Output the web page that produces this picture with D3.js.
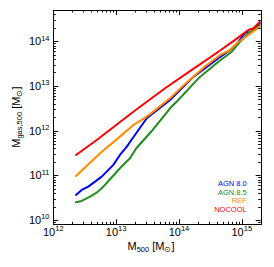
<!DOCTYPE html>
<html><head><meta charset="utf-8">
<script src="https://cdn.jsdelivr.net/npm/d3@7"></script>
<style>
html,body{margin:0;padding:0;background:#fff;}
svg{display:block;font-family:"Liberation Sans",Arial,sans-serif;}
</style></head>
<body>
<svg id="c" width="274" height="267"></svg>
<script>
// ---- data (M500 in Msun, Mgas,500 in Msun) ----
const seriesNames = ["AGN 8.0", "AGN 8.5", "REF", "NOCOOL"];
const seriesColors = ["#0000ff", "#228b22", "#ff8c00", "#ff0000"];

const agn80_m500 = [2.30e12,2.83e12,3.61e12,4.61e12,5.90e12,7.08e12,9.02e12,1.15e13,1.48e13,1.66e13,3.07e13,7.21e13,1.60e14,4.24e14,7.82e14,1.06e15,1.20e15,1.36e15,1.95e15];
const agn80_mgas = [3.63e10,4.70e10,5.57e10,7.21e10,9.33e10,1.21e11,1.71e11,2.85e11,4.38e11,5.57e11,1.89e12,4.85e12,1.48e13,4.15e13,7.55e13,1.38e14,1.64e14,1.51e14,2.52e14];

const agn85_m500 = [2.30e12,2.83e12,3.84e12,4.91e12,6.25e12,8.00e12,1.15e13,1.66e13,2.08e13,3.69e13,7.21e13,9.77e13,2.04e14,4.24e14,6.93e14,9.40e14,1.27e15,1.95e15];
const agn85_mgas = [2.49e10,2.67e10,3.33e10,4.09e10,5.57e10,8.15e10,1.44e11,2.40e11,3.98e11,9.79e11,3.16e12,4.85e12,1.48e13,3.48e13,5.83e13,9.77e13,1.51e14,2.31e14];

const ref_m500 = [2.30e12,5.55e12,1.15e13,1.88e13,2.56e13,3.48e13,7.21e13,1.25e14,2.51e14,4.51e14,6.52e14,8.32e14,1.27e15,1.95e15];
const ref_mgas = [9.66e10,3.11e11,7.33e11,1.34e12,1.74e12,2.34e12,5.30e12,1.11e13,2.63e13,4.92e13,6.37e13,8.99e13,1.38e14,2.12e14];

const nocool_m500 = [2.30e12,4.91e12,1.88e13,6.01e13,1.60e14,4.24e14,7.82e14,1.27e15,1.53e15,1.95e15];
const nocool_mgas = [2.85e11,6.18e11,2.65e12,8.85e12,2.28e13,5.83e13,1.07e14,1.79e14,1.95e14,2.74e14];

const xMajorTicks = [1e12, 1e13, 1e14, 1e15];
const xTickExps = ["12", "13", "14", "15"];
const yMajorTicks = [1e10, 1e11, 1e12, 1e13, 1e14];
const yTickExps = ["10", "11", "12", "13", "14"];

// ---- chart ----
const L = 53.3, R = 260.7, T = 10, B = 224.3;
const svg = d3.select("#c");
const x = d3.scaleLog().domain([1e12, 2e15]).range([L, R]);
const y = d3.scaleLog().domain([8e9, 5e14]).range([B, T]);

const series = [
  {x: agn80_m500, y: agn80_mgas},
  {x: agn85_m500, y: agn85_mgas},
  {x: ref_m500, y: ref_mgas},
  {x: nocool_m500, y: nocool_mgas}
];

const line = d3.line().x(d => x(d[0])).y(d => y(d[1]));
svg.append("clipPath").attr("id","clp").append("rect")
  .attr("x", L).attr("y", T).attr("width", R-L).attr("height", B-T);

const g = svg.append("g").attr("clip-path","url(#clp)");
series.forEach((s, i) => {
  const pts = s.x.map((v, k) => [v, s.y[k]]);
  g.append("path").datum(pts).attr("d", line)
    .attr("fill","none").attr("stroke", seriesColors[i])
    .attr("stroke-width", 2).attr("stroke-linejoin","round").attr("stroke-linecap","round");
});

// ticks (major + minor), inward on all four sides
function logTicks(scale) {
  const [a, b] = scale.domain();
  const out = [];
  for (let e = Math.floor(Math.log10(a)); e <= Math.ceil(Math.log10(b)); e++) {
    for (let m = 1; m < 10; m++) {
      const v = m * Math.pow(10, e);
      if (v >= a * 0.999 && v <= b * 1.001) out.push({v, major: m === 1});
    }
  }
  return out;
}
const tk = svg.append("g").attr("stroke","#000").attr("stroke-width",1);
logTicks(x).forEach(t => {
  const len = t.major ? 5 : 2.5;
  const px = Math.round(x(t.v)) + 0.5;
  tk.append("line").attr("x1",px).attr("x2",px).attr("y1",B).attr("y2",B-len);
  tk.append("line").attr("x1",px).attr("x2",px).attr("y1",T).attr("y2",T+len);
});
logTicks(y).forEach(t => {
  const len = t.major ? 5 : 2.5;
  const py = Math.round(y(t.v)) + 0.5;
  tk.append("line").attr("y1",py).attr("y2",py).attr("x1",L).attr("x2",L+len);
  tk.append("line").attr("y1",py).attr("y2",py).attr("x1",R).attr("x2",R-len);
});
svg.append("rect").attr("x", Math.round(L)+0.5).attr("y", Math.round(T)+0.5)
  .attr("width", Math.round(R)-Math.round(L)).attr("height", Math.round(B)-Math.round(T))
  .attr("fill","none").attr("stroke","#000").attr("stroke-width",1);

// tick labels
const fs = 11, sfs = 7.5;
xMajorTicks.forEach((v, i) => {
  const t = svg.append("text").attr("x", x(v)).attr("y", B + 11.5)
    .attr("text-anchor","middle").attr("font-size", fs).attr("fill","#000");
  t.append("tspan").text("10");
  t.append("tspan").attr("font-size", sfs).attr("dy", -4.5).text(xTickExps[i]);
});
yMajorTicks.forEach((v, i) => {
  const t = svg.append("text").attr("x", 49.5).attr("y", y(v) + 4)
    .attr("text-anchor","end").attr("font-size", fs).attr("fill","#000");
  t.append("tspan").text("10");
  t.append("tspan").attr("font-size", sfs).attr("dy", -4.5).text(yTickExps[i]);
});

// axis titles
const xt = svg.append("text").attr("x", 151).attr("y", 249.5)
  .attr("text-anchor","middle").attr("font-size", fs).attr("fill","#000");
xt.append("tspan").text("M");
xt.append("tspan").attr("font-size", sfs).attr("dy", 2.5).text("500");
xt.append("tspan").attr("dy", -2.5).text(" [M");
xt.append("tspan").attr("font-size", sfs).attr("dy", 2.5).text("⊙");
xt.append("tspan").attr("dy", -2.5).text("]");

const yt = svg.append("text").attr("transform", `translate(19.5,${(T+B)/2}) rotate(-90)`)
  .attr("text-anchor","middle").attr("font-size", fs).attr("fill","#000");
yt.append("tspan").text("M");
yt.append("tspan").attr("font-size", sfs).attr("dy", 2.5).text("gas,500");
yt.append("tspan").attr("dy", -2.5).text(" [M");
yt.append("tspan").attr("font-size", sfs).attr("dy", 2.5).text("⊙");
yt.append("tspan").attr("dy", -2.5).text("]");

// legend
const legBase = [186, 194.7, 203.3, 212.3];
seriesNames.forEach((n, i) => {
  svg.append("text").attr("x", 246.7).attr("y", legBase[i])
    .attr("text-anchor","end").attr("font-size", 7.5)
    .attr("fill", seriesColors[i]).text(n);
});
</script>
</body></html>
